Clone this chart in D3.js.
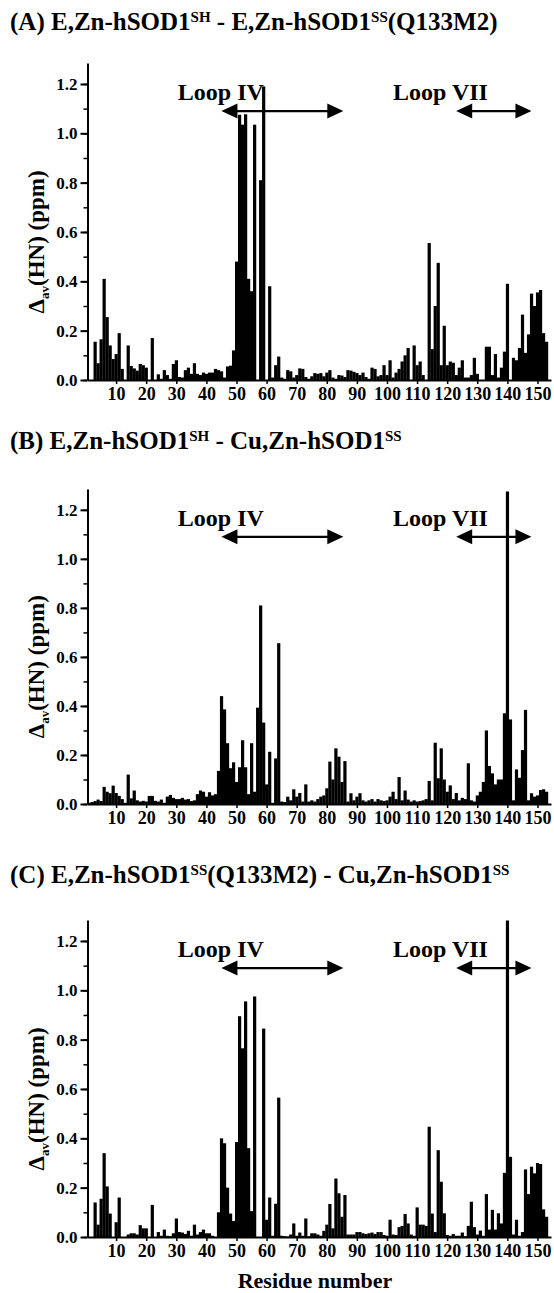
<!DOCTYPE html>
<html>
<head>
<meta charset="utf-8">
<script src="https://cdn.jsdelivr.net/npm/d3@7"></script>
<style>
  body { margin: 0; background: #fff; }
  svg text { font-family: "Liberation Serif", "Times New Roman", serif; font-weight: bold; fill: #000; }
</style>
</head>
<body>
<div id="chart"></div>
<script>
var width = 554,
    height = 1293;

// residue numbers 1..153
var residues = d3.range(1, 154);

// (A) E,Zn-hSOD1SH - E,Zn-hSOD1SS(Q133M2)
var shiftA = [
  0, 0, 0.155, 0.068, 0.165, 0.41, 0.255, 0.14, 0.085, 0.105,
  0.19, 0.045, 0, 0.14, 0.057, 0.047, 0.038, 0.065, 0.06, 0.05,
  0, 0.17, 0, 0.023, 0.005, 0.04, 0.02, 0.005, 0.065, 0.08,
  0.012, 0.01, 0.04, 0.05, 0.025, 0.068, 0.025, 0.02, 0.03, 0.025,
  0.03, 0.03, 0.045, 0.04, 0.035, 0.01, 0.055, 0.058, 0.12, 0.48,
  1.075, 1.035, 1.077, 0.41, 0.36, 1.035, 0, 0.81, 1.19, 0,
  0.38, 0.01, 0.06, 0.095, 0.01, 0.005, 0.04, 0.035, 0.01, 0.02,
  0.047, 0.045, 0.012, 0.005, 0.015, 0.028, 0.025, 0.028, 0.015, 0.03,
  0.04, 0.01, 0.005, 0.02, 0.018, 0.012, 0.04, 0.038, 0.033, 0.028,
  0.02, 0.03, 0.012, 0.005, 0.05, 0.045, 0.015, 0.02, 0.06, 0.02,
  0.08, 0.01, 0.03, 0.045, 0.075, 0.10, 0.13, 0, 0.14, 0.06,
  0.075, 0.02, 0, 0.555, 0.125, 0.30, 0.475, 0.06, 0.22, 0.06,
  0.075, 0.07, 0.02, 0.05, 0.08, 0.01, 0.01, 0.02, 0.09, 0.025,
  0, 0, 0.135, 0.135, 0.02, 0.105, 0.01, 0.05, 0.115, 0.39,
  0, 0.09, 0.08, 0.13, 0.265, 0.11, 0.185, 0.35, 0.30, 0.355,
  0.365, 0.19, 0.155
];

// (B) E,Zn-hSOD1SH - Cu,Zn-hSOD1SS
var shiftB = [
  0.005, 0.008, 0.012, 0.018, 0.012, 0.07, 0.05, 0.044, 0.075, 0.045,
  0.033, 0.02, 0.005, 0.12, 0.023, 0.055, 0.015, 0.01, 0.013, 0.01,
  0.033, 0.033, 0.013, 0.01, 0.018, 0.005, 0.03, 0.037, 0.025, 0.02,
  0.02, 0.025, 0.018, 0.02, 0.012, 0.015, 0.04, 0.055, 0.05, 0.03,
  0.048, 0.035, 0.04, 0.135, 0.44, 0.386, 0.248, 0.146, 0.17, 0.09,
  0.15, 0.26, 0.15, 0.04, 0.248, 0.05, 0.393, 0.81, 0.332, 0.08,
  0.213, 0.005, 0.186, 0.656, 0.01, 0.008, 0.03, 0.015, 0.06, 0.03,
  0.045, 0.01, 0.08, 0.01, 0.015, 0.01, 0.02, 0.03, 0.035, 0.064,
  0.173, 0.1, 0.227, 0.193, 0.09, 0.175, 0.01, 0.044, 0.015, 0.03,
  0.044, 0.015, 0.01, 0.015, 0.02, 0.01, 0.02, 0.015, 0.012, 0.015,
  0.03, 0.05, 0.02, 0.11, 0.015, 0.055, 0.018, 0.01, 0.015, 0.01,
  0.012, 0.015, 0.02, 0.094, 0.015, 0.25, 0.105, 0.227, 0.1, 0.05,
  0.076, 0.02, 0.045, 0.015, 0.025, 0.02, 0.166, 0.015, 0.01, 0.035,
  0.05, 0.09, 0.30, 0.155, 0.125, 0.08, 0.1, 0.1, 0.37, 1.275,
  0.345, 0.015, 0.141, 0.107, 0.22, 0.384, 0.015, 0.044, 0.03, 0.035,
  0.057, 0.06, 0.05
];

// (C) E,Zn-hSOD1SS(Q133M2) - Cu,Zn-hSOD1SS
var shiftC = [
  0, 0, 0.14, 0.05, 0.155, 0.34, 0.205, 0.095, 0, 0.06,
  0.16, 0, 0, 0.01, 0.015, 0.015, 0.01, 0.048, 0.035, 0.035,
  0, 0.13, 0, 0.02, 0.005, 0.03, 0.005, 0.003, 0.015, 0.075,
  0.02, 0.018, 0.012, 0.025, 0.005, 0.05, 0.01, 0.02, 0.03, 0.015,
  0.015, 0.005, 0, 0.1, 0.40, 0.38, 0.20, 0.095, 0.065, 0.385,
  0.895, 0.765, 0.955, 0.36, 0.105, 0.975, 0, 0, 0.845, 0.07,
  0.16, 0.005, 0.135, 0.565, 0.005, 0.003, 0.002, 0.01, 0.055, 0.005,
  0.018, 0.005, 0.075, 0.003, 0.015, 0.015, 0.01, 0.005, 0.025, 0.05,
  0.134, 0.035, 0.237, 0.177, 0.082, 0.17, 0.01, 0.01, 0.01, 0.02,
  0.02, 0.015, 0.012, 0.015, 0.018, 0.012, 0.02, 0.02, 0.008, 0.005,
  0.07, 0.01, 0.008, 0.04, 0.045, 0.093, 0.055, 0.01, 0.005, 0.12,
  0.05, 0.05, 0.045, 0.447, 0.095, 0.02, 0.352, 0.224, 0.096, 0.008,
  0.005, 0.012, 0.005, 0.005, 0.018, 0.003, 0.045, 0.143, 0.04, 0.01,
  0.026, 0.005, 0.174, 0.03, 0.11, 0.03, 0.096, 0.055, 0.26, 1.283,
  0.325, 0.01, 0.07, 0.005, 0.02, 0.274, 0.174, 0.285, 0.258, 0.30,
  0.296, 0.112, 0.082
];

var xTicks = d3.range(10, 151, 10);
var yTicks = [0, 0.2, 0.4, 0.6, 0.8, 1.0, 1.2];
var yMinorTicks = d3.range(0, 1.29, 0.1);

// loop annotations (residue ranges)
var loopNames = ["Loop IV", "Loop VII"];
var loopFrom = [45, 123];
var loopTo = [85.5, 148];
var loopTextStart = [30.5, 102];

// title pieces: [text, isSuperscript]
var panels = [
  {key: "A", data: shiftA, title: [["(A) E,Zn-hSOD1"], ["SH", 1], [" - E,Zn-hSOD1"], ["SS", 1], ["(Q133M2)"]],
   titleY: 30, zeroY: 380, topY: 63},
  {key: "B", data: shiftB, title: [["(B) E,Zn-hSOD1"], ["SH", 1], [" - Cu,Zn-hSOD1"], ["SS", 1]],
   titleY: 449, zeroY: 804, topY: 489},
  {key: "C", data: shiftC, title: [["(C) E,Zn-hSOD1"], ["SS", 1], ["(Q133M2) - Cu,Zn-hSOD1"], ["SS", 1]],
   titleY: 883, zeroY: 1237, topY: 920}
];

var svg = d3.select("#chart")
    .append("svg")
    .attr("width", width)
    .attr("height", height);

svg.append("rect").attr("width", width).attr("height", height).attr("fill", "#fff");

var xScale = d3.scaleLinear()
    .domain([0.5, 154.5])
    .range([87.5, 551]);

panels.forEach(function(p) {
    var g = svg.append("g").attr("class", "panel-" + p.key);

    var yScale = d3.scaleLinear()
        .domain([0, 1.285])
        .range([p.zeroY, p.topY]);

    // title
    var title = g.append("text")
        .attr("x", 10)
        .attr("y", p.titleY)
        .style("font-size", "25px");
    var raised = false;
    p.title.forEach(function(part) {
        var t = title.append("tspan").text(part[0]);
        if (part[1]) {
            t.attr("dy", raised ? 0 : -8).style("font-size", "15px");
            raised = true;
        } else {
            t.attr("dy", raised ? 8 : 0);
            raised = false;
        }
    });

    // bars
    g.append("g")
        .selectAll("rect")
        .data(residues)
        .join("rect")
        .attr("x", function(d) { return xScale(d - 0.5); })
        .attr("width", function(d) { return xScale(d + 0.5) - xScale(d - 0.5) + 0.2; })
        .attr("y", function(d, i) { return yScale(p.data[i]); })
        .attr("height", function(d, i) { return yScale(0) - yScale(p.data[i]); })
        .attr("fill", "#000");

    // y axis minor
    var yMinor = g.append("g")
        .attr("transform", "translate(" + xScale.range()[0] + ",0)")
        .call(d3.axisLeft(yScale).tickValues(yMinorTicks).tickSize(4).tickSizeOuter(0).tickFormat(""));
    yMinor.select(".domain").remove();
    yMinor.selectAll("line").attr("stroke-width", 1.5);

    // y axis major
    var yAxis = g.append("g")
        .attr("transform", "translate(" + xScale.range()[0] + ",0)")
        .call(d3.axisLeft(yScale).tickValues(yTicks).tickSize(7).tickPadding(3).tickSizeOuter(0).tickFormat(d3.format(".1f")));
    yAxis.select(".domain").attr("stroke-width", 2);
    yAxis.selectAll("line").attr("stroke-width", 2);
    yAxis.selectAll("text")
        .attr("font-family", null)
        .style("font-size", "17px");

    // x axis
    var xAxis = g.append("g")
        .attr("transform", "translate(0," + p.zeroY + ")")
        .call(d3.axisBottom(xScale).tickValues(xTicks).tickSize(4).tickPadding(3).tickSizeOuter(0));
    xAxis.select(".domain").attr("stroke-width", 2);
    xAxis.selectAll("line").attr("stroke-width", 1.5);
    xAxis.selectAll("text")
        .attr("font-family", null)
        .style("font-size", "18px");

    // y label
    var yl = g.append("text")
        .attr("transform", "translate(44," + yScale(0.56) + ") rotate(-90)")
        .attr("text-anchor", "middle")
        .style("font-size", "23px");
    yl.append("tspan").text("\u0394");
    yl.append("tspan").attr("dy", 5).style("font-size", "13px").text("av");
    yl.append("tspan").attr("dy", -5).text("(HN) (ppm)");

    // loops
    var arrowY = yScale(1.09);
    for (var j = 0; j < loopNames.length; j++) {
        var x1 = xScale(loopFrom[j]), x2 = xScale(loopTo[j]);
        var head = 16, half = 7.5;
        g.append("line")
            .attr("x1", x1 + head - 2).attr("x2", x2 - head + 2)
            .attr("y1", arrowY).attr("y2", arrowY)
            .attr("stroke", "#000")
            .attr("stroke-width", 2.2);
        g.append("path")
            .attr("d", "M" + x1 + "," + arrowY + "L" + (x1 + head) + "," + (arrowY - half) + "L" + (x1 + head) + "," + (arrowY + half) + "Z")
            .attr("fill", "#000");
        g.append("path")
            .attr("d", "M" + x2 + "," + arrowY + "L" + (x2 - head) + "," + (arrowY - half) + "L" + (x2 - head) + "," + (arrowY + half) + "Z")
            .attr("fill", "#000");
        g.append("text")
            .attr("x", xScale(loopTextStart[j]))
            .attr("y", yScale(1.135))
            .style("font-size", "24px")
            .text(loopNames[j]);
    }

    if (p.key === "C") {
        g.append("text")
            .attr("x", 315)
            .attr("y", 1288)
            .attr("text-anchor", "middle")
            .style("font-size", "22px")
            .text("Residue number");
    }
});
</script>
</body>
</html>
